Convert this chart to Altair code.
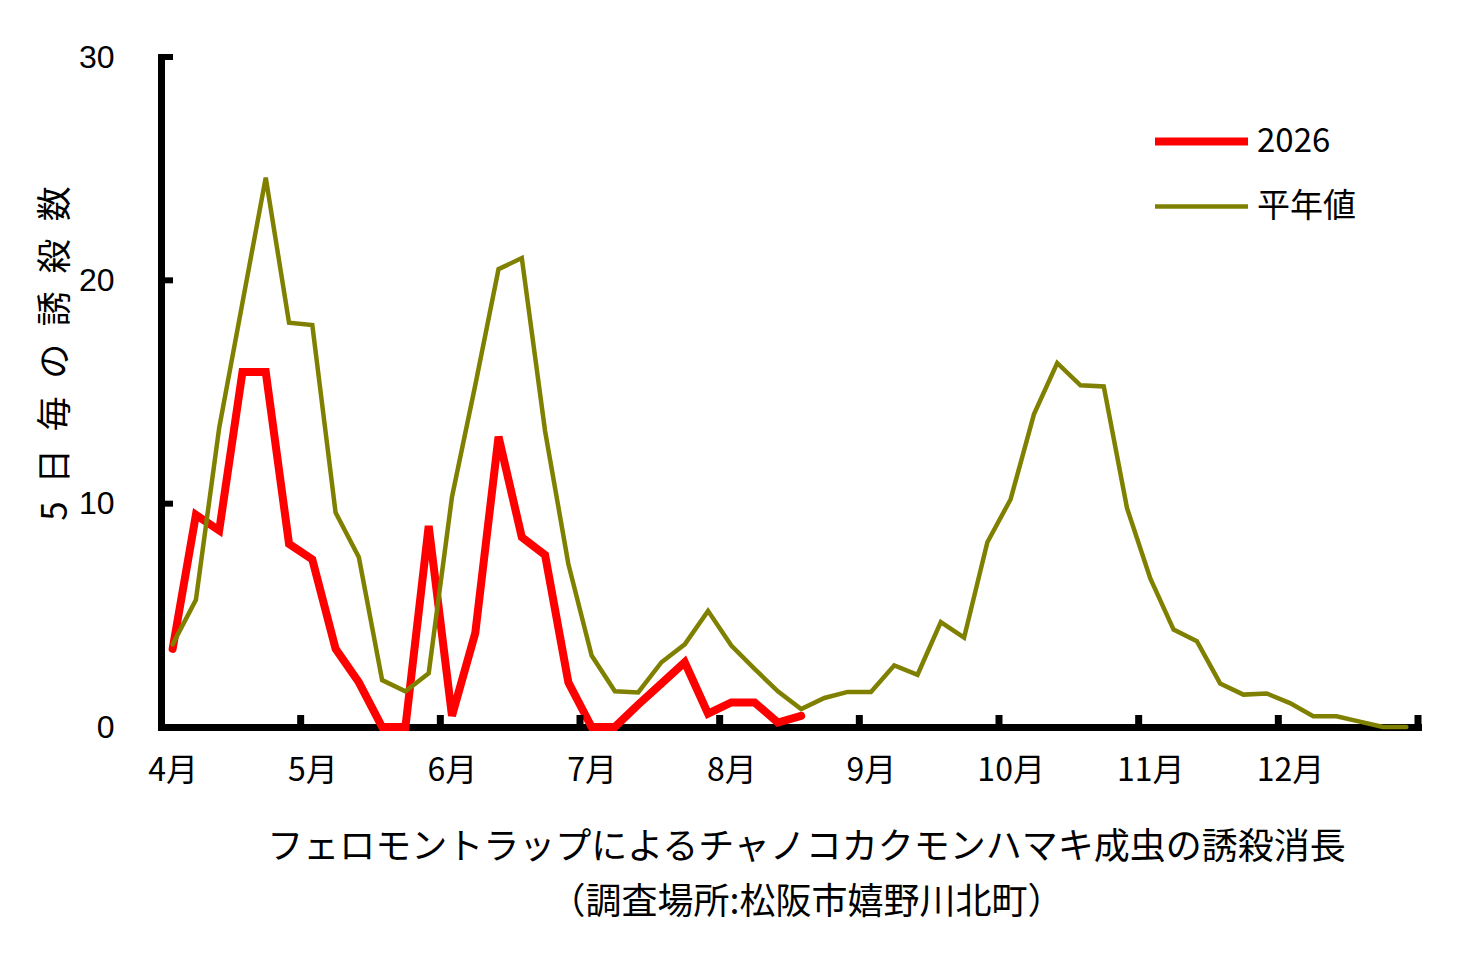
import json
import altair as alt
import pandas as pd

FONT = "Noto Sans CJK JP"
NUM_FONT = "Liberation Sans"

months = ["4月", "5月", "6月", "7月", "8月", "9月", "10月", "11月", "12月"]
series_names = ["2026", "平年値"]
series_colors = ["#FF0000", "#808000"]
y_tick_values = [0, 10, 20, 30]
x_tick_values = [0, 6, 12, 18, 24, 30, 36, 42, 48, 54]

# 5-day (半旬) trap counts, starting 4月1半旬
catch_2026 = [3.5, 9.5, 8.8, 15.9, 15.9, 8.2, 7.5, 3.5, 2.0, 0.0,
              0.0, 9.0, 0.5, 4.2, 13.0, 8.5, 7.7, 2.0, 0.0, 0.0,
              1.0, 1.95, 2.9, 0.6, 1.1, 1.1, 0.2, 0.5]
catch_normal = [3.7, 5.7, 13.4, 19.0, 24.6, 18.1, 18.0, 9.6, 7.6, 2.1,
                1.6, 2.4, 10.3, 15.3, 20.5, 21.0, 13.25, 7.3, 3.2, 1.6,
                1.55, 2.9, 3.7, 5.2, 3.65, 2.6, 1.6, 0.8, 1.3, 1.57,
                1.57, 2.76, 2.34, 4.7, 4.0, 8.27, 10.2, 14.0, 16.3, 15.3,
                15.25, 9.8, 6.65, 4.36, 3.84, 1.95, 1.45, 1.5, 1.07, 0.48,
                0.48, 0.24, 0.0, 0.0]

x_title = ["フェロモントラップによるチャノコカクモンハマキ成虫の誘殺消長",
           "（調査場所:松阪市嬉野川北町）"]
y_title = "\u2002".join(["5", "日", "毎", "の", "誘", "殺", "数"])

rows = []
for i, v in enumerate(catch_2026):
    rows.append({"period": i, "count": v, "series": series_names[0]})
for i, v in enumerate(catch_normal):
    rows.append({"period": i, "count": v, "series": series_names[1]})
df = pd.DataFrame(rows)

W, H = 1257, 670
n_periods = 54

x_scale = alt.Scale(domain=[0, n_periods], nice=False, zero=False)
y_scale = alt.Scale(domain=[0, 30], nice=False)
color_scale = alt.Scale(domain=series_names, range=series_colors)
sw_scale = alt.Scale(domain=series_names, range=[8, 4.5])

label_expr = json.dumps(months, ensure_ascii=False) + "[datum.value / 6] || ''"

x_axis = alt.Axis(
    values=x_tick_values, labelExpr=label_expr, labelOffset=W / n_periods / 2,
    ticks=False, grid=False, domainColor="black", domainWidth=7, domainCap="square",
    labelFont=FONT, labelFontSize=32, labelColor="black", labelPadding=28,
    labelFlush=False, labelOverlap=False,
    title=x_title, titleFont=FONT, titleFontSize=36, titleFontWeight="normal",
    titleColor="black", titleLineHeight=55, titleX=645, titleY=103,
    titleAlign="center", titleBaseline="top", titleAnchor="start",
)
y_axis = alt.Axis(
    values=y_tick_values, ticks=False, grid=False, domainColor="black",
    domainWidth=7, domainCap="square",
    labelFont=NUM_FONT, labelFontSize=32, labelColor="black", labelPadding=47,
    title=y_title, titleFont=FONT, titleFontSize=35, titleFontWeight="normal",
    titleColor="black", titleAngle=270, titleX=-106, titleY=296,
    titleAlign="center", titleBaseline="middle", titleAnchor="start",
)

legend = alt.Legend(
    title=None, orient="none", legendX=1013, legendY=57,
    symbolType="M-2,0H2", symbolSize=2162, symbolFillColor="transparent",
    labelFont=FONT, labelFontSize=33, labelColor="black", labelOffset=28,
    rowPadding=22, labelLimit=0,
)

base = alt.Chart(df).transform_calculate(pos="datum.period + 0.5")


def series_layer(name, with_axes):
    return base.transform_filter(alt.datum.series == name).mark_line(
        strokeCap="round", strokeJoin="miter"
    ).encode(
        x=alt.X("pos:Q", scale=x_scale, axis=x_axis if with_axes else alt.Undefined),
        y=alt.Y("count:Q", scale=y_scale, axis=y_axis if with_axes else alt.Undefined),
        color=alt.Color("series:N", scale=color_scale, legend=legend),
        strokeWidth=alt.StrokeWidth("series:N", scale=sw_scale, legend=legend),
    )


red_layer = series_layer(series_names[0], True)
olive_layer = series_layer(series_names[1], False)

ytick_df = pd.DataFrame({"count": y_tick_values[1:]})
xtick_df = pd.DataFrame({"pos": x_tick_values[1:]})

ytick_layer = alt.Chart(ytick_df).mark_rule(color="black", strokeWidth=6).encode(
    y=alt.Y("count:Q", scale=y_scale),
    x=alt.value(0), x2=alt.value(12),
)
xtick_layer = alt.Chart(xtick_df).mark_rule(color="black", strokeWidth=7).encode(
    x=alt.X("pos:Q", scale=x_scale),
    y=alt.value(H), y2=alt.value(H - 12),
)

chart = alt.layer(red_layer, olive_layer, ytick_layer, xtick_layer).properties(
    width=W, height=H,
    autosize=alt.AutoSizeParams(type="none"),
    padding={"left": 153, "top": 49, "right": 40, "bottom": 200},
    background="white",
).configure_view(stroke=None)

chart.save("out.html", embed_options={"renderer": "svg", "actions": False})
